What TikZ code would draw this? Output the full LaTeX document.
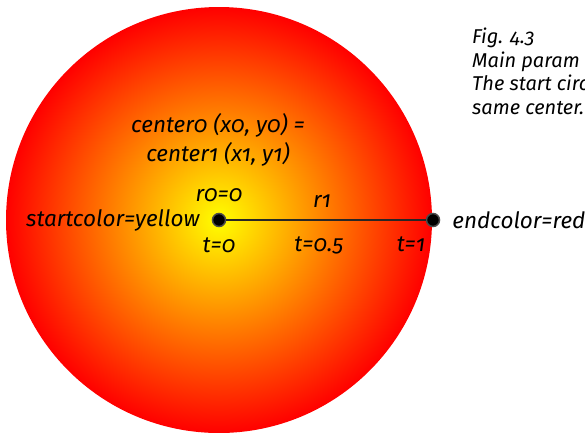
\documentclass[tikz,border=0pt]{standalone}
\usepackage{fontspec}
\setmainfont{Fira Sans}[Numbers=OldStyle]
\usetikzlibrary{positioning}

\begin{document}
\begin{tikzpicture}[x=1pt, y=1pt, every node/.style={font=\itshape\fontsize{22.5}{29}\selectfont}]
  \tikzset{
    dotmark/.style={circle, fill=black, draw=black!70, line width=1.5pt, minimum size=13pt, inner sep=0pt},
    lbl/.style={inner sep=0pt},
    radline/.style={draw=black!85, line width=2.5pt}
  }
  \useasboundingbox (0,0) rectangle (585,-432);

  % Gradient disc, yellow at the center, red at the rim
  \begin{scope}
    \clip (0,0) rectangle (585,-432);
    \shade[inner color=yellow, outer color=red] (219,-220) circle (213);
  \end{scope}

  % Start and end points with the radius between them
  \node[dotmark] (start) at (219,-220) {};
  \node[dotmark] (end) at (433,-220) {};
  \draw[radline] (start) -- (end)
    node[lbl, midway, above=11pt, xshift=-4pt] (rone) {r1}
    node[lbl, midway, below=15pt, xshift=-7pt] (thalf) {t=0.5};

  \node[lbl, left=12pt of start] (startcol) {startcolor=yellow};
  \node[lbl, right=12pt of end] (endcol) {endcolor=red};
  \node[lbl, above=10.5pt of start] (rzero) {r0=0};
  \node[lbl, below=10.5pt of start] (tzero) {t=0};
  \node[lbl, below=9pt of end, xshift=-22pt] (tone) {t=1};

  \node[lbl, align=center] (centers) at (218,-140) {center0 (x0, y0) =\\center1 (x1, y1)};

  % Caption, cut at the right edge
  \node[lbl, anchor=north west, align=left, font=\itshape\fontsize{20}{23.5}\selectfont] (caption) at (472,-28)
    {Fig. 4.3\\Main param\\The start circ\\same center.};
\end{tikzpicture}
\end{document}
